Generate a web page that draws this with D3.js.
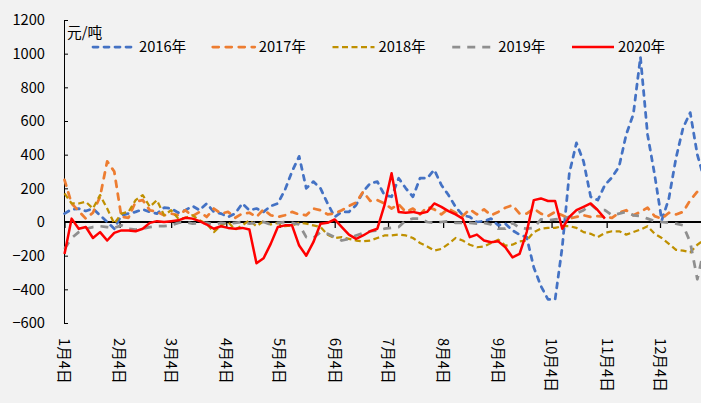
<!DOCTYPE html>
<html><head><meta charset="utf-8">
<script src="https://cdn.jsdelivr.net/npm/d3@7"></script>
<style>
html,body{margin:0;padding:0;background:#f2f2f2;}
svg{display:block;}
text{font-family:"Noto Sans CJK SC","Microsoft YaHei",sans-serif;fill:#000;font-size:14.7px;}
</style></head><body>
<svg id="c" width="701" height="403"></svg>
<script>
// ---- data ----
const startDate = "2020-01-04";
const stepDays = 4;
const seriesNames = ["2016年","2017年","2018年","2019年","2020年"];
const s2016 = [50,75,80,65,80,40,0,-40,40,50,
  60,75,60,50,85,80,55,70,95,70,
  110,60,50,30,50,110,70,80,60,95,
  110,190,300,390,200,240,200,110,30,60,
  60,100,180,230,240,160,150,260,200,150,
  260,260,310,220,160,90,40,30,0,5,
  20,-20,-10,-50,-75,-90,-270,-380,-460,-460,
  -150,290,470,360,150,130,220,265,330,520,
  640,980,520,280,10,140,380,560,650,400,250];
const s2017 = [250,110,65,20,55,150,360,300,30,25,
  120,130,70,60,40,50,40,70,35,60,
  30,80,50,60,25,50,55,30,75,40,
  30,40,60,45,40,80,70,45,50,70,
  95,115,180,125,130,110,80,105,60,80,
  45,90,75,45,80,55,35,75,45,75,
  40,60,85,100,50,50,80,50,35,60,
  40,20,30,40,30,35,30,25,55,70,
  40,60,85,35,20,55,45,60,130,180,210];
const s2018 = [170,110,110,120,80,160,80,-10,50,60,
  130,160,90,130,40,70,20,25,40,10,
  -10,-60,-20,0,-45,-20,10,-25,5,-15,
  -5,-25,-20,-5,-10,-20,-30,-75,-95,-90,
  -100,-110,-115,-110,-95,-80,-80,-75,-80,-95,
  -125,-145,-170,-160,-130,-95,-110,-135,-150,-145,
  -125,-105,-140,-135,-115,-110,-60,-40,-35,-35,
  -25,-25,-35,-60,-70,-90,-65,-55,-55,-75,
  -60,-45,-25,-70,-95,-130,-165,-170,-180,-135,-105];
const s2019 = [-160,-95,-60,-40,-30,-25,-30,-35,-20,-40,
  -45,-40,-30,-25,-25,-20,-5,0,-10,-5,
  -5,-15,-5,-10,-5,0,-10,-5,0,-15,
  -5,0,-5,-15,-90,-95,-60,-70,-90,-110,
  -100,-80,-65,-55,-50,-40,-35,-30,10,20,
  20,0,-5,0,5,-5,-5,-5,-10,-5,
  -15,-40,-40,-5,-35,-40,-35,15,10,15,
  20,30,50,70,105,70,70,40,50,60,
  40,35,20,5,0,-5,-10,-20,-120,-340,-150];
const s2020 = [-190,20,-40,-30,-95,-60,-110,-65,-50,-50,
  -55,-40,-5,5,0,5,10,25,20,5,
  -15,-40,-25,-35,-40,-35,-45,-245,-215,-130,
  -30,-20,-20,-140,-200,-120,-10,-5,15,-30,
  -75,-100,-80,-55,-40,100,290,60,55,60,
  50,60,110,90,65,45,20,-90,-75,-110,
  -120,-115,-150,-210,-190,-60,130,140,125,125,
  -40,30,70,90,110,70,20];
const yTicks = [-600,-400,-200,0,200,400,600,800,1000,1200];
const xTickLabels = ["1月4日","2月4日","3月4日","4月4日","5月4日","6月4日","7月4日","8月4日","9月4日","10月4日","11月4日","12月4日"];
const unitLabel = "元/吨";

// ---- styles ----
const styles = [
  {color:"#4472C4", width:2.75, dash:"5,6", cap:"round"},
  {color:"#ED7D31", width:2.75, dash:"6,7", cap:"round"},
  {color:"#BF9000", width:2.25, dash:"6,3.5", cap:"butt"},
  {color:"#8F8F8F", width:2.75, dash:"8,7", cap:"butt"},
  {color:"#FF0000", width:2.5, dash:null, cap:"butt"}
];
const allSeries = [s2016,s2017,s2018,s2019,s2020];

const W=701,H=403;
const svg = d3.select("#c");
svg.append("rect").attr("width",W).attr("height",H).attr("fill","#f2f2f2");

const t0 = d3.timeParse("%Y-%m-%d")(startDate);
const tickDates = xTickLabels.map((_,i)=>new Date(2020,i,4));
const x = d3.scaleTime().domain([tickDates[0], tickDates[11]]).range([64.5,660]);
const y = d3.scaleLinear().domain([-600,1200]).range([323,20]);

// y axis
const ya = svg.append("g").attr("transform","translate(64,0)")
  .call(d3.axisLeft(y).tickValues(yTicks).tickSizeInner(-4).tickSizeOuter(0).tickPadding(19).tickFormat(d3.format("d")));
ya.selectAll("path,line").attr("stroke","#000").attr("stroke-width",1);
ya.selectAll("text").attr("font-family",null).attr("font-size",null).style("font-size","14.7px");

// zero line + month ticks
svg.append("line").attr("x1",64).attr("x2",W).attr("y1",y(0)).attr("y2",y(0))
  .attr("stroke","#000").attr("stroke-width",2);
const xa = svg.append("g").attr("transform",`translate(0,${y(0)})`)
  .call(d3.axisBottom(x).tickValues(tickDates).tickSizeInner(6).tickSizeOuter(0).tickFormat(""));
xa.select(".domain").remove();
xa.selectAll("line").attr("stroke","#000").attr("stroke-width",1.25);

// x labels (rotated)
svg.append("g").selectAll("text").data(xTickLabels).join("text")
  .attr("transform",(d,i)=>`translate(${x(tickDates[i])},338) rotate(90)`)
  .attr("dy","0.35em").attr("text-anchor","start").text(d=>d);

// unit
svg.append("text").attr("x",67).attr("y",33).attr("dy","0.35em").text(unitLabel);

// lines
const line = d3.line()
  .defined(v=>v!=null)
  .x((v,i)=>x(d3.timeDay.offset(t0, i*stepDays)))
  .y(v=>y(v));
allSeries.forEach((s,k)=>{
  const st = styles[k];
  svg.append("path").datum(s).attr("d",line)
    .attr("fill","none").attr("stroke",st.color).attr("stroke-width",st.width)
    .attr("stroke-dasharray",st.dash).attr("stroke-linecap",st.cap).attr("stroke-linejoin","round");
});

// legend
const lg = svg.append("g");
seriesNames.forEach((n,k)=>{
  const st = styles[k];
  const x0 = 93 + k*119.75, yy = 47;
  lg.append("line").attr("x1",x0).attr("x2",x0+42).attr("y1",yy).attr("y2",yy)
    .attr("stroke",st.color).attr("stroke-width",st.width)
    .attr("stroke-dasharray",st.dash).attr("stroke-linecap",st.cap);
  lg.append("text").attr("x",x0+46).attr("y",yy).attr("dy","0.35em").text(n);
});
</script>
</body></html>
